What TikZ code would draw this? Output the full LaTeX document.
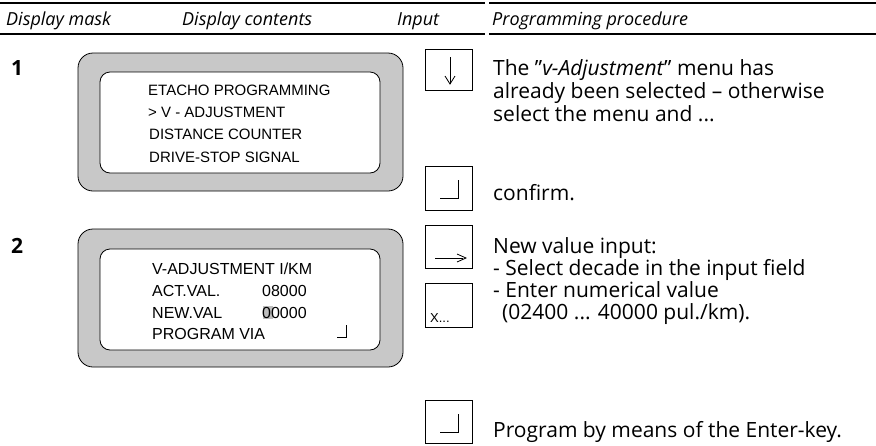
\documentclass[tikz,border=0pt]{standalone}
\usepackage{fontspec}
\setmainfont{Open Sans}
\newfontfamily\lcdfont{Liberation Sans}
\definecolor{bezelgray}{RGB}{200,200,200}
\definecolor{cursorgray}{RGB}{190,190,190}

\begin{document}
\begin{tikzpicture}[x=1pt,y=-1pt,
  rule/.style={line width=1.5pt},
  hdr/.style={anchor=base west, inner sep=0pt, font=\itshape\fontsize{18}{20}\selectfont},
  body/.style={anchor=base west, inner sep=0pt, font=\fontsize{21}{23}\selectfont},
  rownum/.style={anchor=base west, inner sep=0pt, font=\bfseries\fontsize{21}{23}\selectfont},
  lcdA/.style={anchor=base west, inner sep=0pt, font=\lcdfont\fontsize{15}{18}\selectfont},
  lcdB/.style={anchor=base west, inner sep=0pt, font=\lcdfont\fontsize{16}{18}\selectfont},
  bezel/.style={draw, line width=0.8pt, fill=bezelgray, rounded corners=15pt},
  screen/.style={draw, line width=0.8pt, fill=white, rounded corners=10pt},
  keybox/.style={draw, line width=0.8pt},
  glyph/.style={line width=0.8pt},
]
\useasboundingbox (0,0) rectangle (876,445);

% table header
\draw[rule] (0,3) -- (485,3);
\draw[rule] (489,3) -- (876,3);
\draw[rule] (0,34) -- (485,34);
\draw[rule] (489,34) -- (876,34);
\node[hdr] (hmask) at (6,25) {Display mask};
\node[hdr] (hcont) at (182,25) {Display contents};
\node[hdr] (hinp) at (397,25) {Input};
\node[hdr] (hproc) at (492,25) {Programming procedure};

% step numbers
\node[rownum] (n1) at (11,75) {1};
\node[rownum] (n2) at (11,253) {2};

% display 1
\draw[bezel] (78,53) rectangle (403,191);
\draw[screen] (100,72) rectangle (380,173);
\node[lcdA] (d1a) at (148,95) {ETACHO PROGRAMMING};
\node[lcdA] (d1b) at (148,117) {> V - ADJUSTMENT};
\node[lcdA] (d1c) at (149,139) {DISTANCE COUNTER};
\node[lcdA] (d1d) at (149,162) {DRIVE-STOP SIGNAL};

% display 2
\draw[bezel] (78,229) rectangle (403,367);
\draw[screen] (100,249) rectangle (380,350);
\fill[cursorgray] (263,306) rectangle (273,319);
\node[lcdB] (d2a) at (152,274) {V-ADJUSTMENT I/KM};
\node[lcdB] (d2b) at (152,296) {ACT.VAL.};
\node[lcdB] (d2c) at (262,296) {08000};
\node[lcdB] (d2d) at (152,318) {NEW.VAL};
\node[lcdB] (d2e) at (262,318) {00000};
\node[lcdB] (d2f) at (152,339) {PROGRAM VIA};
\draw[glyph] (337,337) -- (346,337) -- (346,325);

% input keys
\draw[keybox] (425,49) rectangle (472,90);
\draw[glyph] (450,57) -- (450,84);
\draw[glyph] (445,76) -- (450,84) -- (455,76);

\draw[keybox] (425,166) rectangle (472,210);
\draw[glyph] (440,198) -- (458,198) -- (458,180);

\draw[keybox] (425,225) rectangle (472,268);
\draw[glyph] (435,258) -- (463,258);
\draw[glyph] (457,254) -- (466,258) -- (457,262);

\draw[keybox] (425,283) rectangle (472,327);
\node[anchor=base west, inner sep=0pt, font=\lcdfont\fontsize{13}{15}\selectfont] (kx) at (430,322) {X...};

\draw[keybox] (425,400) rectangle (472,443);
\draw[glyph] (440,432) -- (458,432) -- (458,414);

% procedure text
\node[body] (t1) at (493,75) {The "\textit{v-Adjustment}" menu has};
\node[body] (t2) at (493,98) {already been selected -- otherwise};
\node[body] (t3) at (493,121) {select the menu and ...};
\node[body] (t4) at (493,200) {confirm.};
\node[body] (t5) at (493,253) {New value input:};
\node[body] (t6) at (493,275) {- Select decade in the input field};
\node[body] (t7) at (493,297) {- Enter numerical value};
\node[body] (t8) at (502,319) {(02400 ... 40000 pul./km).};
\node[body] (t9) at (493,437) {Program by means of the Enter-key.};
\end{tikzpicture}
\end{document}
